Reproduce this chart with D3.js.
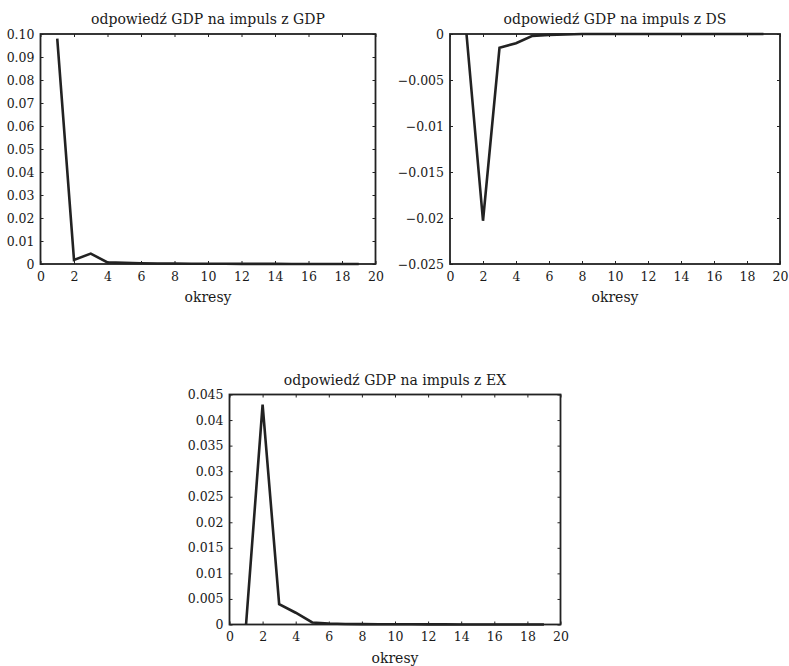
<!DOCTYPE html>
<html>
<head>
<meta charset="utf-8">
<script src="https://cdn.jsdelivr.net/npm/d3@7.7.0/dist/d3.min.js"></script>
<style>
  body { margin: 0; background: #fff; }
  text { font-family: "DejaVu Serif", "Liberation Serif", serif; fill: #1a1a1a; }
</style>
</head>
<body>
<div id="chart"></div>
<script>
// periods 1..19
const periods = d3.range(1, 20);

// responses of GDP
const gdpFromGdp = [0.098, 0.0018, 0.0045, 0.0007, 0.0005, 0.0003, 0.0002, 0.0002, 0.0001, 0.0001,
  0.0001, 0.00005, 0.00005, 0.00005, 0, 0, 0, 0, 0];
const gdpFromDs = [0, -0.0203, -0.0015, -0.001, -0.0002, -0.0001, -0.00005, 0, 0, 0,
  0, 0, 0, 0, 0, 0, 0, 0, 0];
const gdpFromEx = [0, 0.043, 0.004, 0.0023, 0.0004, 0.0002, 0.0001, 0.00008, 0.00006, 0.00005,
  0.00004, 0.00003, 0.00002, 0.00001, 0, 0, 0, 0, 0];

// axis ticks
const xTicks = d3.range(0, 21, 2);
const yTicksGdp = [0, 0.01, 0.02, 0.03, 0.04, 0.05, 0.06, 0.07, 0.08, 0.09, 0.10];
const yLabelsGdp = ["0", "0.01", "0.02", "0.03", "0.04", "0.05", "0.06", "0.07", "0.08", "0.09", "0.10"];
const yTicksDs = [0, -0.005, -0.01, -0.015, -0.02, -0.025];
const yLabelsDs = ["0", "\u22120.005", "\u22120.01", "\u22120.015", "\u22120.02", "\u22120.025"];
const yTicksEx = [0, 0.005, 0.01, 0.015, 0.02, 0.025, 0.03, 0.035, 0.04, 0.045];
const yLabelsEx = ["0", "0.005", "0.01", "0.015", "0.02", "0.025", "0.03", "0.035", "0.04", "0.045"];

const titles = ["odpowiedź GDP na impuls z GDP", "odpowiedź GDP na impuls z DS", "odpowiedź GDP na impuls z EX"];

const svg = d3.select("#chart").append("svg")
  .attr("width", 789)
  .attr("height", 666);

const panels = [
  { title: titles[0], values: gdpFromGdp, domain: [0, 0.10], ticks: yTicksGdp, labels: yLabelsGdp,
    left: 40.5, top: 34, width: 335, height: 230 },
  { title: titles[1], values: gdpFromDs, domain: [-0.025, 0], ticks: yTicksDs, labels: yLabelsDs,
    left: 450, top: 34, width: 330, height: 230 },
  { title: titles[2], values: gdpFromEx, domain: [0, 0.045], ticks: yTicksEx, labels: yLabelsEx,
    left: 229.5, top: 394.5, width: 331, height: 230 }
];

panels.forEach((p) => {
  const g = svg.append("g").attr("transform", `translate(${p.left}, ${p.top})`);

  const x = d3.scaleLinear().domain([0, 20]).range([0, p.width]);
  const y = d3.scaleLinear().domain(p.domain).range([p.height, 0]);

  // inward ticks on all four sides
  const axes = [
    { ax: d3.axisBottom(x).tickValues(xTicks).tickSize(-3).tickPadding(8).tickFormat(d3.format("d")), tr: `translate(0, ${p.height})` },
    { ax: d3.axisTop(x).tickValues(xTicks).tickSize(-3).tickFormat(""), tr: "translate(0, 0)" },
    { ax: d3.axisLeft(y).tickValues(p.ticks).tickSize(-3).tickPadding(6).tickFormat((d, i) => p.labels[i]), tr: "translate(0, 0)" },
    { ax: d3.axisRight(y).tickValues(p.ticks).tickSize(-3).tickFormat(""), tr: `translate(${p.width}, 0)` }
  ];
  axes.forEach((a) => {
    const ag = g.append("g").attr("transform", a.tr).call(a.ax);
    ag.select(".domain").remove();
    ag.selectAll(".tick line").attr("stroke", "#222").attr("stroke-width", 1);
    ag.selectAll(".tick text")
      .style("font-family", "'DejaVu Serif', serif")
      .style("font-size", "12.5px")
      .attr("fill", "#1a1a1a");
  });

  // line
  const line = d3.line()
    .x((d, i) => x(periods[i]))
    .y((d) => y(d));
  g.append("path")
    .datum(p.values)
    .attr("fill", "none")
    .attr("stroke", "#222")
    .attr("stroke-width", 2.6)
    .attr("stroke-linejoin", "miter")
    .attr("d", line);

  // frame
  g.append("rect")
    .attr("width", p.width)
    .attr("height", p.height)
    .attr("fill", "none")
    .attr("stroke", "#222")
    .attr("stroke-width", 1.8);

  g.append("text")
    .attr("x", p.width / 2)
    .attr("y", -10)
    .attr("text-anchor", "middle")
    .style("font-size", "14px")
    .text(p.title);

  g.append("text")
    .attr("x", p.width / 2)
    .attr("y", p.height + 38)
    .attr("text-anchor", "middle")
    .style("font-size", "14px")
    .text("okresy");
});
</script>
</body>
</html>
